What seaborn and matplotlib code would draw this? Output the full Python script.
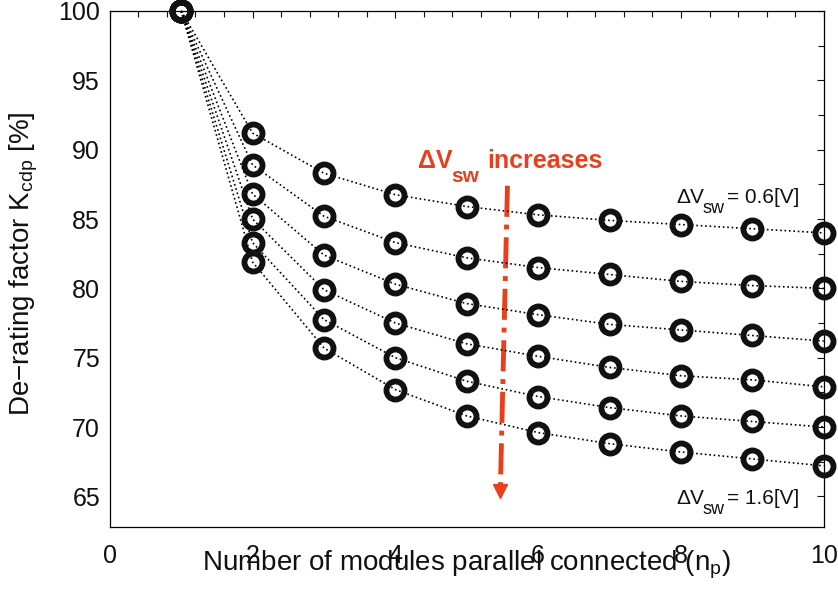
import numpy as np
import pandas as pd
import matplotlib
matplotlib.use('Agg')
import matplotlib.pyplot as plt
import seaborn as sns
from matplotlib.ticker import MultipleLocator

# modules in parallel
n_p = [1, 2, 3, 4, 5, 6, 7, 8, 9, 10]

# de-rating factor for each switch voltage drop (0.6 V ... 1.6 V)
k_06 = [100, 91.2, 88.3, 86.75, 85.9, 85.3, 84.9, 84.6, 84.3, 84.0]
k_08 = [100, 88.9, 85.2, 83.3, 82.2, 81.5, 81.0, 80.5, 80.2, 80.0]
k_10 = [100, 86.8, 82.4, 80.3, 78.9, 78.1, 77.4, 77.0, 76.6, 76.2]
k_12 = [100, 85.0, 79.9, 77.5, 76.0, 75.1, 74.3, 73.7, 73.4, 72.9]
k_14 = [100, 83.3, 77.75, 75.0, 73.3, 72.2, 71.4, 70.8, 70.4, 70.0]
k_16 = [100, 81.9, 75.7, 72.7, 70.8, 69.6, 68.8, 68.2, 67.7, 67.2]

series = [k_06, k_08, k_10, k_12, k_14, k_16]

# arrow ends (n_p, K)
arrow_x = [5.57, 5.47]
arrow_y = [87.4, 65.4]

sns.set_style('white')
plt.rcParams['font.family'] = ['Liberation Sans', 'DejaVu Sans']
plt.rcParams['mathtext.fontset'] = 'custom'
plt.rcParams['mathtext.rm'] = 'Liberation Sans'
plt.rcParams['mathtext.default'] = 'regular'
plt.rcParams['text.color'] = '#111111'
plt.rcParams['axes.labelcolor'] = '#111111'

fig = plt.figure(figsize=(8.38, 5.94), dpi=100)
ax = fig.add_axes([0.131, 0.113, 0.852, 0.8685])

for k in series:
    sns.lineplot(x=n_p, y=k, ax=ax, color='black', linestyle=':', linewidth=1.2,
                 marker='o', markersize=13, markerfacecolor='none',
                 markeredgecolor='#111111', markeredgewidth=4.2, clip_on=False,
                 zorder=3)

red = '#E8401C'
ax.plot(arrow_x, arrow_y, color=red, linestyle='-.', linewidth=3.5)
ax.plot(arrow_x[1], arrow_y[1], marker='v', color=red, markersize=10)


def sub_label(x, y, main, sub, rest, size, sub_size, dx1, dx2, dy, **kw):
    ax.text(x, y, main, fontsize=size, va='baseline', **kw)
    ax.text(x + dx1, y - dy, sub, fontsize=sub_size, va='baseline', **kw)
    ax.text(x + dx2, y, rest, fontsize=size, va='baseline', **kw)


sub_label(4.31, 88.7, '\u0394V', 'sw', 'increases', 18, 15, 0.48, 0.98, 1.05,
          color=red, fontweight='bold')
sub_label(7.94, 86.17, '\u0394V', 'sw', '= 0.6[V]', 15, 13, 0.36, 0.70, 0.72)
sub_label(7.94, 64.42, '\u0394V', 'sw', '= 1.6[V]', 15, 13, 0.36, 0.70, 0.72)

ax.set_xlim(0, 10)
ax.set_ylim(62.8, 100)
ax.set_xticks([0, 2, 4, 6, 8, 10])
ax.set_yticks([65, 70, 75, 80, 85, 90, 95, 100])
ax.xaxis.set_minor_locator(MultipleLocator(0.4))
ax.yaxis.set_minor_locator(MultipleLocator(2.5))
ax.tick_params(which='both', direction='in', top=True, right=True,
               labelsize=18, length=5, width=0.8, colors='#111111', pad=7)
ax.tick_params(axis='x', which='major', pad=12)
ax.tick_params(which='minor', length=4)
for s in ax.spines.values():
    s.set_linewidth(0.9)
    s.set_color('black')

ax.set_xlabel(r'Number of modules parallel connected (n$_p$)', fontsize=20)
ax.set_ylabel(r'De$-$rating factor K$_{cdp}$ [%]', fontsize=20)
ax.xaxis.set_label_coords(0.5, -0.042)
ax.yaxis.set_label_coords(-0.098, 0.51)

fig.savefig('out.png', dpi=100)
